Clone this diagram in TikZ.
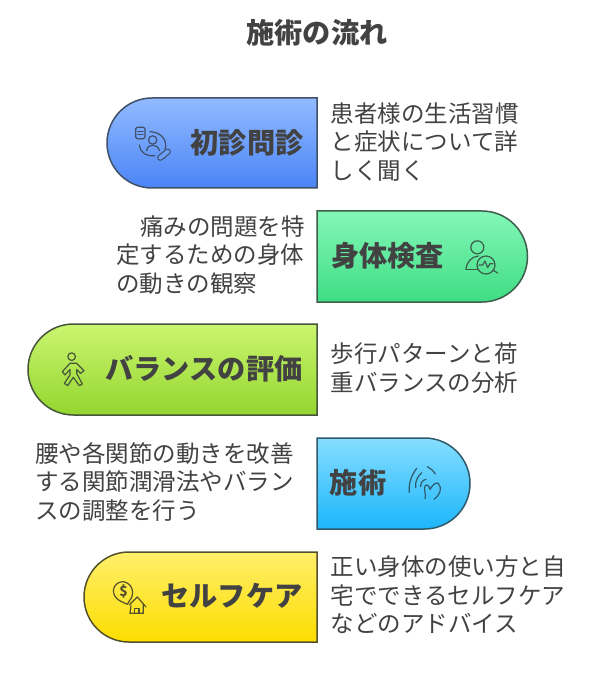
\documentclass[tikz,border=0pt]{standalone}
\usepackage{fontspec}
\setmainfont{Noto Sans CJK JP}
\definecolor{ink}{HTML}{424242}
\definecolor{blueT}{HTML}{92BBFF}\definecolor{blueB}{HTML}{4A84F6}\definecolor{blueS}{HTML}{3F5068}
\definecolor{blueP}{HTML}{6C9EFA}
\definecolor{greenT}{HTML}{84F7B8}\definecolor{greenB}{HTML}{3FDD84}\definecolor{greenS}{HTML}{3C5E4B}
\definecolor{limeT}{HTML}{CBF56F}\definecolor{limeB}{HTML}{93D62F}\definecolor{limeS}{HTML}{47563A}
\definecolor{cyanT}{HTML}{86DEFF}\definecolor{cyanB}{HTML}{1CB6FB}\definecolor{cyanS}{HTML}{2F5A6C}
\definecolor{yelT}{HTML}{FFEF6B}\definecolor{yelB}{HTML}{FDDD00}\definecolor{yelS}{HTML}{55502C}
\tikzset{
  x=1pt,y=-1pt,
  titletext/.style={font=\bfseries\fontsize{28.2}{32}\selectfont,text=ink,inner sep=0pt},
  labeltext/.style={font=\bfseries\fontsize{28.2}{32}\selectfont,text=ink,inner sep=0pt},
  desctext/.style={font=\fontsize{23.5}{28.5}\selectfont,text=ink,inner sep=0pt,anchor=west,align=left},
  pillband/.style={line width=1.5pt,line join=miter},
  iconline/.style={line width=1.2pt,line cap=round,line join=round},
}
\begin{document}
\begin{tikzpicture}
\useasboundingbox[fill=white] (0,0) rectangle (600,700);
\node[titletext] (title) at (317,33) {施術の流れ};
% bands
\path[pillband,top color=blueT,bottom color=blueB,draw=blueS]
  (317,98) -- (152,98) arc[start angle=90,end angle=270,radius=45pt] -- (317,188) -- cycle;
\path[pillband,top color=greenT,bottom color=greenB,draw=greenS]
  (317,211) -- (482,211) arc[start angle=90,end angle=-90,radius=45.5pt] -- (317,302) -- cycle;
\path[pillband,top color=limeT,bottom color=limeB,draw=limeS]
  (317,324) -- (73.5,324) arc[start angle=90,end angle=270,radius=45.5pt] -- (317,415) -- cycle;
\path[pillband,top color=cyanT,bottom color=cyanB,draw=cyanS]
  (317,438) -- (424.5,438) arc[start angle=90,end angle=-90,radius=45.5pt] -- (317,529) -- cycle;
\path[pillband,top color=yelT,bottom color=yelB,draw=yelS]
  (317,552) -- (129,552) arc[start angle=90,end angle=270,radius=45pt] -- (317,642) -- cycle;
% labels
\node[labeltext] (l1) at (247,143) {初診問診};
\node[labeltext] (l2) at (387.5,256) {身体検査};
\node[labeltext] (l3) at (204,369) {バランスの評価};
\node[labeltext] (l4) at (358,483) {施術};
\node[labeltext] (l5) at (232,596) {セルフケア};
% descriptions
\node[desctext] (d1) at (330.5,142) {患者様の生活習慣\\と症状について詳\\しく聞く};
\node[desctext] (d2) at (116,255) {\hspace*{24pt}痛みの問題を特\\定するための身体\\の動きの観察};
\node[desctext] (d3) at (330.5,368) {歩行パターンと荷\\重バランスの分析};
\node[desctext] (d4) at (35,482) {腰や各関節の動きを改善\\する関節潤滑法やバラン\\スの調整を行う};
\node[desctext] (d5) at (330.5,595) {正い身体の使い方と自\\宅でできるセルフケア\\などのアドバイス};
% icon 1
\begin{scope}[shift={(100,90)},x=0.3333pt,y=-0.3333pt,iconline,draw=blueS]
  \draw[rounded corners=1.5pt] (107,112) rectangle (135,146);
  \draw (113,124) -- (129,124) (113,134) -- (129,134);
  \draw (158,150) circle (4.2pt);
  \draw (140,182) .. controls (142,160) and (174,160) .. (178,182);
  \draw (150,125) .. controls (180,125) and (205,150) .. (195,178);
  \draw (118,165) .. controls (122,190) and (140,200) .. (165,197);
  \draw[line width=6.4pt,blueS] (181,203) -- (203,185);
  \draw[line width=4pt,blueP] (181,203) -- (203,185);
\end{scope}
% icon 2
\begin{scope}[shift={(310,205)},x=0.3333pt,y=-0.3333pt,iconline,draw=greenS]
  \draw (502,127) circle (6.5pt);
  \draw (468,193) .. controls (470,170) and (485,155) .. (505,153);
  \draw (468,193) -- (505,193);
  \draw (528,180) circle (9pt);
  \draw (548,195) -- (563,204);
  \draw (507,180) -- (518,180) -- (525,168) -- (533,188) -- (540,176) -- (549,176);
\end{scope}
% icon 3
\begin{scope}[shift={(20,320)},x=0.3333pt,y=-0.3333pt,iconline,draw=limeS]
  \draw (155,110) circle (3.8pt);
  \draw (150,130) -- (127,155) -- (135,165) -- (150,148) -- (150,165) -- (133,190) -- (143,197)
     -- (160,172) -- (178,197) -- (187,192) -- (170,160) -- (170,148) -- (182,160) -- (192,152) -- (170,130) -- cycle;
\end{scope}
% icon 4
\begin{scope}[shift={(310,430)},x=0.3333pt,y=-0.3333pt,iconline,draw=cyanS]
  \draw (320,115) .. controls (305,135) and (295,160) .. (298,187);
  \draw (335,128) .. controls (322,140) and (315,155) .. (317,172);
  \draw (348,148) .. controls (338,150) and (332,158) .. (332,170);
  \draw (352,110) .. controls (362,115) and (370,122) .. (376,132);
  \draw (345,206) .. controls (350,195) and (340,180) .. (345,168) .. controls (352,160) and (358,170) .. (360,178)
     .. controls (365,170) and (375,155) .. (385,160) .. controls (398,175) and (390,195) .. (372,208);
\end{scope}
% icon 5
\begin{scope}[shift={(75,545)},x=0.3333pt,y=-0.3333pt,iconline,draw=yelS]
  \draw (163,168) .. controls (180,150) and (175,115) .. (145,110) .. controls (118,110) and (105,140) .. (125,160) .. controls (132,168) and (145,172) .. (157,178) -- (163,168);
  \node[text=yelS,inner sep=0pt,font=\bfseries\fontsize{14}{14}\selectfont] (dollar) at (146,139) {\$};
  \draw (163,180) -- (187,156) -- (213,186);
  \draw (168,182) -- (165,205) -- (205,205) -- (205,178);
  \draw (178,205) -- (178,190) -- (192,190) -- (192,205);
\end{scope}
\end{tikzpicture}
\end{document}
